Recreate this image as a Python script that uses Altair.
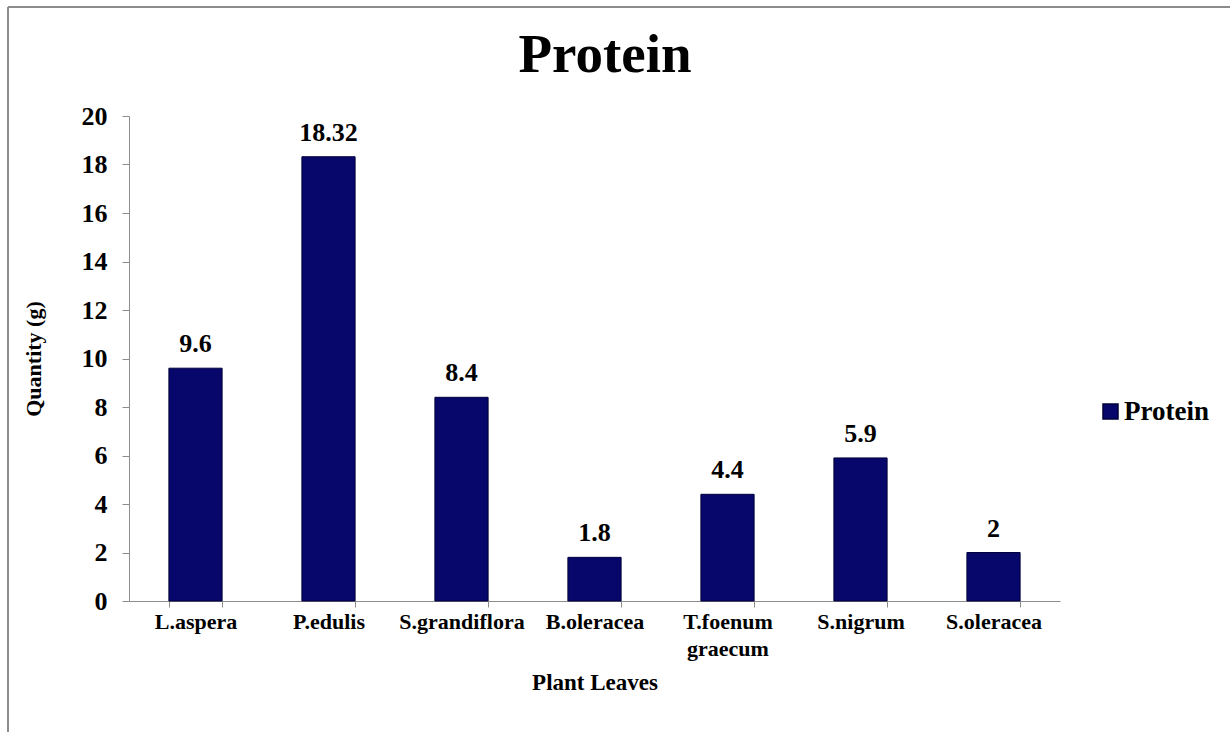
import altair as alt
import pandas as pd

# Protein content of plant leaves (g)
plants = ["L.aspera", "P.edulis", "S.grandiflora", "B.oleracea",
          "T.foenum graecum", "S.nigrum", "S.oleracea"]
protein = [9.6, 18.32, 8.4, 1.8, 4.4, 5.9, 2]
labels = ["9.6", "18.32", "8.4", "1.8", "4.4", "5.9", "2"]

df = pd.DataFrame({"plant": plants, "value": protein, "label": labels,
                   "series": ["Protein"] * len(plants)})

FONT = "Liberation Serif"
NAVY = "#06066b"
GREY = "#8c8c8c"

x_enc = alt.X(
    "plant:N", sort=plants, title="Plant Leaves",
    scale=alt.Scale(paddingInner=0.6, paddingOuter=0.3),
    axis=alt.Axis(labelAngle=0, labelExpr="split(datum.label, ' ')",
                  labelFont=FONT, labelFontSize=22, labelFontWeight="bold",
                  labelColor="black", labelPadding=4, labelLineHeight=27,
                  titleFont=FONT, titleFontSize=23, titleFontWeight="bold",
                  titleColor="black", titlePadding=12,
                  domainColor=GREY, tickColor=GREY, tickSize=6,
                  tickBand="extent"),
)
y_enc = alt.Y(
    "value:Q", title="Quantity (g)",
    scale=alt.Scale(domain=[0, 20]),
    axis=alt.Axis(values=list(range(0, 21, 2)), grid=False,
                  labelFont=FONT, labelFontSize=26, labelFontWeight="bold",
                  labelColor="black", labelPadding=15,
                  titleFont=FONT, titleFontSize=22, titleFontWeight="bold",
                  titleColor="black", titlePadding=36,
                  domainColor=GREY, tickColor=GREY, tickSize=7),
)

bars = alt.Chart(df).mark_bar(stroke="#00003a", strokeWidth=1).encode(
    x=x_enc, y=y_enc,
    color=alt.Color("series:N", title=None,
                    scale=alt.Scale(domain=["Protein"], range=[NAVY]),
                    legend=alt.Legend(orient="none", legendX=968, legendY=282,
                                      symbolType="square", symbolSize=225,
                                      symbolStrokeColor="#00003a",
                                      labelFont=FONT, labelFontSize=27,
                                      labelFontWeight="bold",
                                      labelColor="black", labelOffset=0)),
)

text = alt.Chart(df).mark_text(
    font=FONT, fontSize=26, fontWeight="bold", color="black",
    baseline="bottom", dy=-11,
).encode(x=alt.X("plant:N", sort=plants), y="value:Q", text="label:N")

# chart heading
heading = alt.Chart(pd.DataFrame({"t": ["Protein"]})).mark_text(
    font=FONT, fontSize=55, fontWeight="bold", color="black",
    align="center", baseline="alphabetic",
).encode(x=alt.value(476), y=alt.value(-44), text="t:N")

# outer frame lines (top and left)
frame_top = alt.Chart(df).mark_rule(color=GREY, strokeWidth=2).encode(
    x=alt.value(-121), x2=alt.value(1110), y=alt.value(-109))
frame_left = alt.Chart(df).mark_rule(color=GREY, strokeWidth=2).encode(
    x=alt.value(-121), y=alt.value(-109), y2=alt.value(620))

chart = alt.layer(bars, text, heading, frame_top, frame_left).properties(
    width=931, height=485,
    autosize=alt.AutoSizeParams(type="none"),
    padding={"left": 129, "top": 116, "right": 170, "bottom": 131},
).configure(background="white", view=alt.ViewConfig(stroke=None))

chart.save("out.html", embed_options={"renderer": "svg", "actions": False})
